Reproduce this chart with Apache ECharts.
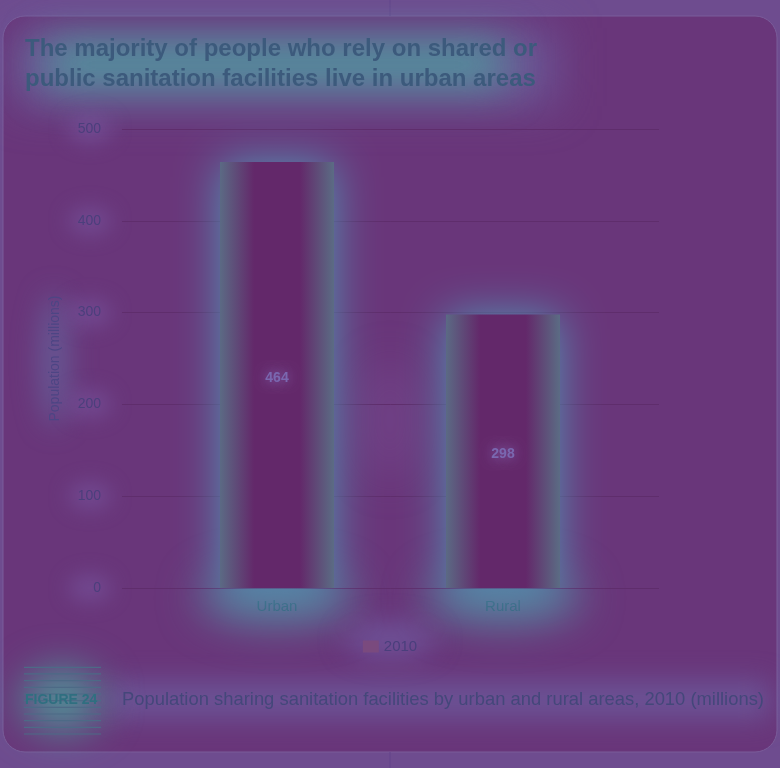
<!DOCTYPE html>
<html><head><meta charset="utf-8">
<script src="https://cdn.jsdelivr.net/npm/echarts@6/dist/echarts.min.js"></script>
<style>html,body{margin:0;padding:0;background:#6e4c8f;}#c{width:780px;height:768px;}</style>
</head><body><div id="c"></div>
<script>
const categories = ['Urban', 'Rural'];
const seriesName = '2010';
const values2010 = [464, 298];
const yTicks = [0, 100, 200, 300, 400, 500];
const titleLines = ['The majority of people who rely on shared or', 'public sanitation facilities live in urban areas'];
const figureLabel = 'FIGURE 24';
const caption = 'Population sharing sanitation facilities by urban and rural areas, 2010 (millions)';
const yName = 'Population (millions)';

const FONT = "'Liberation Sans', Arial, sans-serif";
const chart = echarts.init(document.getElementById('c'));

// soft decorative glow layer (attention-map look of the reference)
const glow = document.createElement('canvas');
glow.width = 780; glow.height = 768;
(function () {
  const g = glow.getContext('2d');
  function blob(x, y, w, h, color, blur) {
    g.save(); g.filter = 'blur(' + blur + 'px)'; g.fillStyle = color;
    g.beginPath(); g.ellipse(x, y, w, h, 0, 0, Math.PI * 2); g.fill(); g.restore();
  }
  function box(x, y, w, h, color, blur) {
    g.save(); g.filter = 'blur(' + blur + 'px)'; g.fillStyle = color;
    g.fillRect(x, y, w, h); g.restore();
  }
  box(12, 28, 545, 78, 'rgba(110,110,170,0.55)', 22);
  box(45, 42, 460, 44, 'rgba(72,170,160,0.8)', 22);
  box(110, 682, 660, 36, 'rgba(110,110,175,0.55)', 14);
  blob(62, 700, 40, 32, 'rgba(72,175,160,0.75)', 20);
  blob(277, 598, 78, 26, 'rgba(80,160,170,0.7)', 22);
  blob(503, 598, 78, 26, 'rgba(80,160,170,0.7)', 22);
  blob(390, 640, 45, 16, 'rgba(115,110,180,0.55)', 14);
  blob(54, 360, 14, 68, 'rgba(100,130,180,0.5)', 14);
  [129, 221, 313, 404, 496, 588].forEach(function (y) { blob(90, y, 22, 14, 'rgba(125,95,170,0.45)', 10); });
  blob(390, 420, 30, 60, 'rgba(125,90,160,0.3)', 20);
})();

const stripes = [];
for (let k = 0; k <= 10; k++) {
  stripes.push({type:'line', z: 2, shape:{x1:24, y1:667.3 + k*6.67, x2:101, y2:667.3 + k*6.67},
    style:{stroke:'#4d6a86', lineWidth:1.2}});
}

chart.setOption({
  backgroundColor: '#6e4c8f',
  animation: false,
  title: {
    text: titleLines.join('\n'),
    left: 25, top: 34, padding: 0,
    textStyle: {fontFamily: FONT, fontSize: 24, fontWeight: 'bold', color: '#3c5a7c', lineHeight: 30}
  },
  graphic: [
    {type:'rect', z: -20, silent: true, shape:{x:3, y:16, width:774, height:736, r:22}, style:{fill:'#69367a', stroke:'#7a5c9a', lineWidth:1}},
    {type:'line', z: -20, shape:{x1:390, y1:0, x2:390, y2:16}, style:{stroke:'#62428a', lineWidth:1}},
    {type:'line', z: -20, shape:{x1:390, y1:752, x2:390, y2:768}, style:{stroke:'#62428a', lineWidth:1}},
    {type:'image', z: -10, silent: true, style:{image: glow, x:0, y:0, width:780, height:768}},
    ...stripes,
    {type:'text', z: 5, left: 25, top: 693, style:{text: figureLabel, font: "bold 14px " + FONT, fill:'#2f6f80'}},
    {type:'text', z: 5, left: 122, top: 691, style:{text: caption, font: "18.4px " + FONT, fill:'#44477a'}}
  ],
  legend: {
    data: [{name: seriesName, icon: 'rect', itemStyle: {color: '#7a4a7e'}}],
    top: 634, left: 'center', itemWidth: 16, itemHeight: 12, itemGap: 7,
    textStyle: {fontFamily: FONT, fontSize: 15, color: '#4a3f7c'}
  },
  grid: [
    {left: 122, right: 121, top: 129, bottom: 180},
    {left: 164, right: 164, top: 129, bottom: 180}
  ],
  xAxis: [
    {gridIndex: 0, type: 'category', data: categories, show: false},
    {gridIndex: 1, type: 'category', data: categories,
      axisLine: {show: false}, axisTick: {show: false},
      axisLabel: {margin: 11, fontFamily: FONT, fontSize: 15, color: '#3a6680'}}
  ],
  yAxis: [
    {gridIndex: 0, type: 'value', min: yTicks[0], max: yTicks[yTicks.length-1], interval: 100,
      name: yName, nameLocation: 'middle', nameGap: 60, nameRotate: 90,
      nameTextStyle: {fontFamily: FONT, fontSize: 14, color: '#4d4584'},
      axisLine: {show: false}, axisTick: {show: false},
      axisLabel: {margin: 21, fontFamily: FONT, fontSize: 14, color: '#4b3f7c'},
      splitLine: {lineStyle: {color: '#5f2d6c', width: 1}}},
    {gridIndex: 1, type: 'value', min: yTicks[0], max: yTicks[yTicks.length-1], interval: 100, show: false}
  ],
  series: [{
    name: seriesName, type: 'bar', xAxisIndex: 1, yAxisIndex: 1, data: values2010, barWidth: 114,
    itemStyle: {
      color: new echarts.graphic.LinearGradient(0, 0, 1, 0, [
        {offset: 0, color: '#5b6a84'}, {offset: 0.3, color: '#63286a'},
        {offset: 0.7, color: '#63286a'}, {offset: 1, color: '#5b6c84'}]),
      shadowColor: 'rgba(80,155,185,0.9)', shadowBlur: 45
    },
    label: {show: true, position: 'inside', offset: [0, 3], fontFamily: FONT, fontWeight: 'bold', fontSize: 14, color: '#7a68b0',
      textShadowColor: 'rgba(140,120,200,0.8)', textShadowBlur: 12}
  }]
});
</script></body></html>
